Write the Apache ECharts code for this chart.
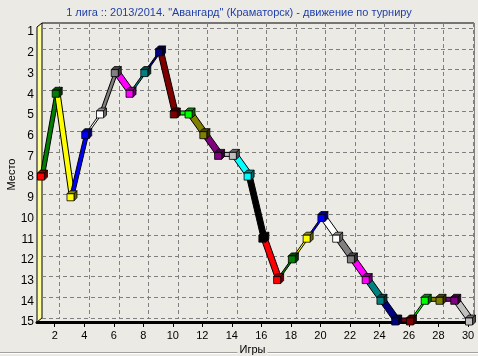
<!DOCTYPE html>
<html><head><meta charset="utf-8">
<script src="https://cdn.jsdelivr.net/npm/echarts@6/dist/echarts.min.js"></script>
<style>html,body{margin:0;padding:0;background:#ECEAE5;}#c{width:478px;height:356px;}</style>
</head><body><div id="c"></div>
<script>
const games = [1,2,3,4,5,6,7,8,9,10,11,12,13,14,15,16,17,18,19,20,21,22,23,24,25,26,27,28,29,30];
const places = [8,4,9,6,5,3,4,3,2,5,5,6,7,7,8,11,13,12,11,10,11,12,13,14,15,15,14,14,14,15];
const xTickValues = [2,4,6,8,10,12,14,16,18,20,22,24,26,28,30];
const yTickValues = [1,2,3,4,5,6,7,8,9,10,11,12,13,14,15];
const palette = ['#FF0000','#008000','#FFFF00','#0000FF','#FFFFFF','#808080','#FF00FF','#008080',
                 '#000080','#800000','#00FF00','#808000','#800080','#C0C0C0','#00FFFF','#000000'];
const titleText = '1 лига :: 2013/2014. "Авангард" (Краматорск) - движение по турниру';

function shade(hex, k){
  const n = parseInt(hex.slice(1),16);
  const r = Math.round(((n>>16)&255)*k), g = Math.round(((n>>8)&255)*k), b = Math.round((n&255)*k);
  return 'rgb('+r+','+g+','+b+')';
}
const DX = 5, DY = -4;
const points = games.map((g,i)=>[g, places[i]]);
const font = 'Liberation Sans, Arial, sans-serif';
const bg = '#ECEAE5';

const chart = echarts.init(document.getElementById('c'));
chart.setOption({
  backgroundColor: bg,
  animation: false,
  title: { text: titleText, left: 'center', top: 2,
    textStyle: { color: '#1F3FA8', fontSize: 11, fontWeight: 'normal', fontFamily: font } },
  grid: [
    { left: 37, right: 10, top: 27, bottom: 34, outerBoundsMode: 'none', containLabel: false },
    { left: 42, right: 5, top: 23, bottom: 38, outerBoundsMode: 'none', containLabel: false }
  ],
  xAxis: [
    { type: 'value', gridIndex: 0, min: 0.8, max: 30,
      axisLine: { show: true, lineStyle: { color: '#000', width: 3 } },
      axisTick: { show: true, length: 5, customValues: xTickValues, lineStyle: { color: '#000' } },
      axisLabel: { customValues: xTickValues, color: '#000', fontSize: 11, fontFamily: font, margin: 8 },
      splitLine: { show: false },
      name: 'Игры', nameLocation: 'middle', nameGap: 21, nameMoveOverlap: false,
      nameTextStyle: { color: '#000', fontSize: 11, fontFamily: font, backgroundColor: bg, padding: [1,2,2,2] } },
    { type: 'value', gridIndex: 1, min: 0.8, max: 30,
      axisLine: { show: false }, axisLabel: { show: false },
      axisTick: { show: false, customValues: xTickValues },
      splitLine: { show: true, lineStyle: { color: '#808080', type: [4,3], width: 1 } } }
  ],
  yAxis: [
    { type: 'value', gridIndex: 0, min: 0.75, max: 15, inverse: true,
      axisLine: { show: false },
      axisTick: { show: false, customValues: yTickValues },
      axisLabel: { customValues: yTickValues, color: '#000', fontSize: 12, fontFamily: font, margin: 3 },
      splitLine: { show: false },
      name: 'Место', nameLocation: 'middle', nameGap: 20, nameRotate: 90, nameMoveOverlap: false,
      nameTextStyle: { color: '#000', fontSize: 11, fontFamily: font } },
    { type: 'value', gridIndex: 1, min: 0.75, max: 15, inverse: true,
      axisLine: { show: false }, axisLabel: { show: false },
      axisTick: { show: false, customValues: yTickValues },
      splitLine: { show: true, lineStyle: { color: '#808080', type: [4,3], width: 1 } } }
  ],
  graphic: [
    { type: 'polygon', z: 0, shape: { points: [[37,27],[42,23],[42,318],[37,322]] },
      style: { fill: '#FFFF99', stroke: '#000', lineWidth: 1 } },
    { type: 'line', z: 0, shape: { x1: 42, y1: 23, x2: 474, y2: 23 }, style: { stroke: '#000', lineWidth: 1 } },
    { type: 'line', z: 0, shape: { x1: 474.5, y1: 23, x2: 474.5, y2: 318 }, style: { stroke: '#808080', lineWidth: 1 } },
    { type: 'line', z: -1, shape: { x1: 0, y1: 352.5, x2: 478, y2: 352.5 }, style: { stroke: '#A0A0A0', lineWidth: 1 } },
    { type: 'line', z: -1, shape: { x1: 0, y1: 353.5, x2: 478, y2: 353.5 }, style: { stroke: '#FFFFFF', lineWidth: 1 } }
  ],
  series: [
    { type: 'custom', xAxisIndex: 0, yAxisIndex: 0, z: 3, data: points, encode: { x: 0, y: 1 },
      clip: false,
      renderItem: function(params, api){
        const i = params.dataIndex;
        if (i === 0) return null;
        const p0 = api.coord([games[i-1], places[i-1]]);
        const p1 = api.coord([games[i], places[i]]);
        const col = palette[i % palette.length];
        return { type: 'polygon',
          shape: { points: [p0, p1, [p1[0]+DX, p1[1]+DY], [p0[0]+DX, p0[1]+DY]] },
          style: { fill: col, stroke: '#000', lineWidth: 1 } };
      } },
    { type: 'custom', xAxisIndex: 0, yAxisIndex: 0, z: 4, data: points, encode: { x: 0, y: 1 },
      clip: false,
      renderItem: function(params, api){
        const i = params.dataIndex;
        const p = api.coord([games[i], places[i]]);
        const col = palette[i % palette.length];
        const s = 3.5, d = 3;
        const cx = p[0] + 1, cy = p[1] - 0.5;
        const L = cx - s, R = cx + s, T = cy - s, B = cy + s;
        return { type: 'group', children: [
          { type: 'polygon', shape: { points: [[L,T],[R,T],[R+d,T-d],[L+d,T-d]] },
            style: { fill: shade(col, 0.55), stroke: '#000', lineWidth: 0.8 } },
          { type: 'polygon', shape: { points: [[R,T],[R,B],[R+d,B-d],[R+d,T-d]] },
            style: { fill: shade(col, 0.4), stroke: '#000', lineWidth: 0.8 } },
          { type: 'polygon', shape: { points: [[L,T],[R,T],[R,B],[L,B]] },
            style: { fill: col, stroke: '#000', lineWidth: 0.8 } }
        ] };
      } }
  ]
});
</script>
</body></html>
